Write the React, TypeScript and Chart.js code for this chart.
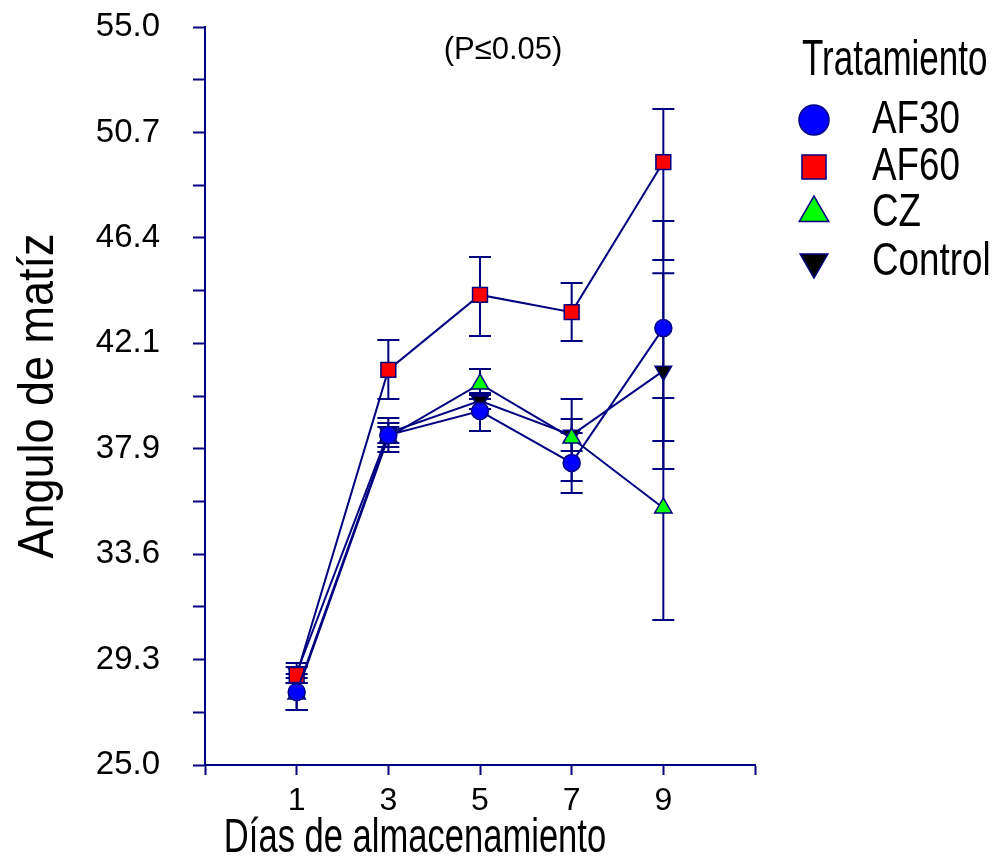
import React, { useEffect, useRef } from 'react';
import { Chart, registerables } from 'chart.js';
import { drawPoint } from 'chart.js/helpers';

Chart.register(...registerables);

// ---- data ----
const days = [1, 3, 5, 7, 9];
const seriesNames = ['AF30', 'AF60', 'CZ', 'Control'];
const af30 = [27.97, 38.41, 39.39, 37.28, 42.76];
const af30Low = [27.24, 37.72, 38.58, 36.06, 38.17];
const af30High = [28.70, 39.11, 40.12, 38.50, 47.11];
const af60 = [28.66, 41.06, 44.11, 43.41, 49.51];
const af60Low = [28.33, 39.88, 42.44, 42.24, 45.53];
const af60High = [28.98, 42.28, 45.65, 44.59, 51.67];
const cz = [27.89, 38.33, 40.49, 38.29, 35.45];
const czLow = [27.24, 37.93, 39.88, 36.54, 30.89];
const czHigh = [28.54, 38.74, 41.10, 39.88, 39.92];
const control = [28.74, 38.50, 39.80, 38.41, 41.02];
const controlLow = [28.33, 38.09, 39.47, 37.76, 37.03];
const controlHigh = [29.15, 38.90, 40.04, 39.07, 44.99];
const yMin = 25;
const yMax = 55;
const yTickCount = 15;
const xMin = -1;
const xMax = 11;
const xTickCount = 7;
const xTitle = 'Días de almacenamiento';
const yTitle = 'Angulo de matíz';
const legendTitle = 'Tratamiento';
const note = '(P≤0.05)';

const NAVY = '#000080';
const FONT = "'Liberation Sans', Arial, sans-serif";

const seriesValues = [af30, af60, cz, control];
const seriesLows = [af30Low, af60Low, czLow, controlLow];
const seriesHighs = [af30High, af60High, czHigh, controlHigh];
const seriesColors = ['#0000ff', '#ff0000', '#00ff00', '#000000'];
const seriesStyles = ['circle', 'rect', 'triangle', 'triangle'];
const seriesRotation = [0, 0, 0, 180];
const seriesRadius = [8.5, 10.5, 10, 9.5];
const legendRadius = [15, 17, 17, 16];

function drawScaledText(ctx: CanvasRenderingContext2D, text: string, x: number, y: number, font: string, sx: number, align: CanvasTextAlign, baseline: CanvasTextBaseline, rot = 0) {
  ctx.save();
  ctx.font = font;
  ctx.fillStyle = '#000';
  ctx.textAlign = align;
  ctx.textBaseline = baseline;
  ctx.translate(x, y);
  if (rot) ctx.rotate(rot);
  ctx.scale(sx, 1);
  ctx.fillText(text, 0, 0);
  ctx.restore();
}

const errorBarPlugin = {
  id: 'errorBars',
  beforeDatasetsDraw(chart: any) {
    const { ctx, scales } = chart;
    const xs = scales.x;
    const ys = scales.y;
    ctx.save();
    ctx.strokeStyle = NAVY;
    ctx.lineWidth = 2;
    seriesLows.forEach((low, s) => {
      days.forEach((d, i) => {
        const px = xs.getPixelForValue(d);
        const yl = ys.getPixelForValue(low[i]);
        const yh = ys.getPixelForValue(seriesHighs[s][i]);
        ctx.beginPath();
        ctx.moveTo(px, yl);
        ctx.lineTo(px, yh);
        ctx.moveTo(px - 11, yl);
        ctx.lineTo(px + 11, yl);
        ctx.moveTo(px - 11, yh);
        ctx.lineTo(px + 11, yh);
        ctx.stroke();
      });
    });
    ctx.restore();
  },
};

const textPlugin = {
  id: 'texts',
  afterDraw(chart: any) {
    const { ctx, chartArea } = chart;
    drawScaledText(ctx, xTitle, 415, 852, `48px ${FONT}`, 0.72, 'center', 'alphabetic');
    drawScaledText(ctx, yTitle, 53, (chartArea.top + chartArea.bottom) / 2, `50px ${FONT}`, 0.9, 'center', 'alphabetic', -Math.PI / 2);
    drawScaledText(ctx, note, 503, 50, `31px ${FONT}`, 1, 'center', 'middle');
    drawScaledText(ctx, legendTitle, 802, 75, `50px ${FONT}`, 0.7, 'left', 'alphabetic');
    const rows = [120, 167, 213, 262];
    seriesNames.forEach((name, i) => {
      ctx.save();
      ctx.fillStyle = seriesColors[i];
      ctx.strokeStyle = NAVY;
      ctx.lineWidth = 1.5;
      drawPoint(ctx, { pointStyle: seriesStyles[i] as any, rotation: seriesRotation[i], radius: legendRadius[i], borderWidth: 1.5 }, 814, rows[i]);
      ctx.restore();
      drawScaledText(ctx, name, 872, rows[i], `46px ${FONT}`, 0.8, 'left', 'middle');
    });
  },
};

export default function App() {
  const ref = useRef<HTMLCanvasElement>(null);
  useEffect(() => {
    if (!ref.current) return;
    const datasets = seriesNames.map((name, s) => ({
      label: name,
      data: days.map((d, i) => ({ x: d, y: seriesValues[s][i] })),
      borderColor: NAVY,
      borderWidth: 2,
      backgroundColor: seriesColors[s],
      pointBackgroundColor: seriesColors[s],
      pointBorderColor: NAVY,
      pointBorderWidth: 1.5,
      pointStyle: seriesStyles[s],
      pointRotation: seriesRotation[s],
      pointRadius: seriesRadius[s],
      pointHoverRadius: seriesRadius[s],
      tension: 0,
      fill: false,
      clip: false as any,
    }));
    const chart = new Chart(ref.current, {
      type: 'line',
      data: { datasets: datasets as any },
      options: {
        responsive: false,
        animation: false,
        events: [],
        layout: { padding: { left: 0, right: 243, top: 27, bottom: 0 } },
        plugins: { legend: { display: false }, tooltip: { enabled: false }, title: { display: false } },
        scales: {
          x: {
            type: 'linear',
            min: xMin,
            max: xMax,
            afterFit: (scale: any) => {
              scale.height = 96;
              scale.paddingLeft = 0;
              scale.paddingRight = 0;
            },
            border: { display: true, color: NAVY, width: 2 },
            grid: { drawOnChartArea: false, drawTicks: true, tickLength: 10, tickColor: NAVY, tickWidth: 2 },
            ticks: {
              count: xTickCount,
              autoSkip: false,
              maxRotation: 0,
              padding: 7,
              color: '#000',
              font: { family: FONT, size: 32 },
              callback: (v: any) => (v >= 1 && v <= 9 ? String(v) : ''),
            },
          },
          y: {
            type: 'linear',
            min: yMin,
            max: yMax,
            afterFit: (scale: any) => {
              scale.width = 205;
              scale.paddingTop = 0;
              scale.paddingBottom = 0;
            },
            border: { display: true, color: NAVY, width: 2 },
            grid: { drawOnChartArea: false, drawTicks: true, tickLength: 12, tickColor: NAVY, tickWidth: 2 },
            ticks: {
              count: yTickCount,
              autoSkip: false,
              maxTicksLimit: 30,
              padding: 33,
              color: '#000',
              font: { family: FONT, size: 33 },
              callback: (v: any, i: number) => (i % 2 === 0 ? Number(v).toFixed(1) : ''),
            },
          },
        },
      },
      plugins: [errorBarPlugin, textPlugin],
    });
    return () => chart.destroy();
  }, []);
  return (
    <div style={{ position: 'absolute', left: 0, top: 0, width: 998, height: 861 }}>
      <canvas ref={ref} width={998} height={861} style={{ display: 'block' }} />
    </div>
  );
}
